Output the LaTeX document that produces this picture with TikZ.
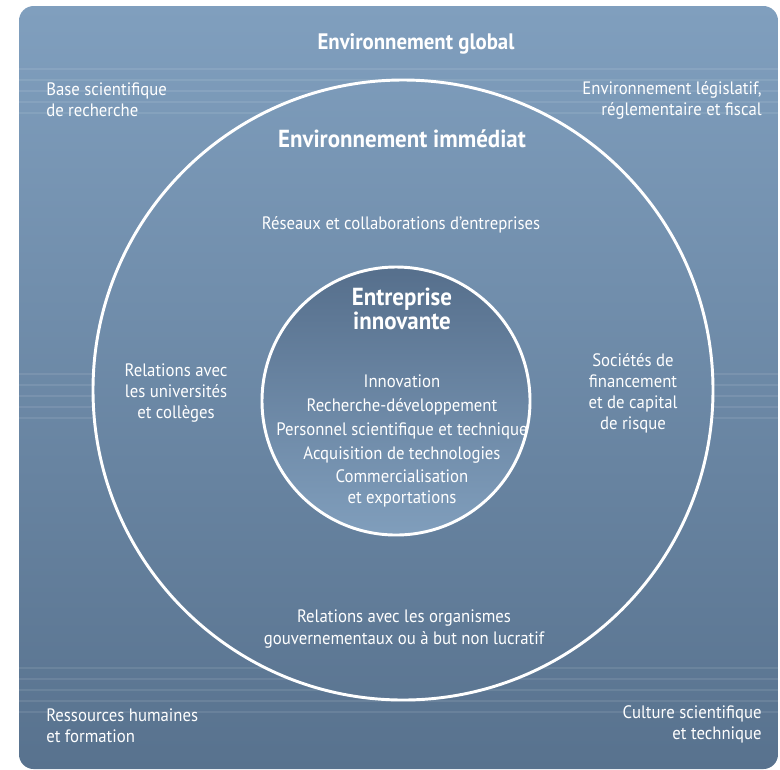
\documentclass[tikz,border=0pt]{standalone}
\usepackage{fontspec}
\setmainfont{PT Sans}[FakeStretch=0.93]
\definecolor{bgtop}{RGB}{128,159,190}
\definecolor{bgbottom}{RGB}{88,114,142}
\definecolor{coretop}{RGB}{86,111,140}
\definecolor{corebottom}{RGB}{128,158,188}
\tikzset{
  ringtext/.style={text=white, align=center, font=\fontsize{13.5}{15.8}\selectfont, inner sep=0pt},
  titletext/.style={text=white, align=center, font=\bfseries\fontsize{16.8}{18}\selectfont, inner sep=0pt},
  ring/.style={draw=white, line width=2.2pt}
}
\begin{document}
\begin{tikzpicture}[x=0.75pt, y=-0.75pt]
  \useasboundingbox (0,0) rectangle (780,769);

  % Background panel
  \shade[top color=bgtop, bottom color=bgbottom, rounded corners=11pt] (19,6) rectangle (778,769);

  % Faint stripes outside the outer ring
  \begin{scope}[even odd rule]
    \clip (19,6) rectangle (778,769) (403,390) circle[radius=310];
    \foreach \band in {69,374,668}
      \foreach \k in {0,...,4}
        \draw[white, opacity=0.09, line width=0.8pt] (19,\band+11*\k) -- (778,\band+11*\k);
  \end{scope}

  % Outer ring
  \node[ring, circle, minimum size=465pt, inner sep=0pt] (outer) at (403,390) {};

  % Core
  \shade[top color=coretop, bottom color=corebottom] (396,401) circle[radius=134];
  \node[ring, circle, minimum size=201pt, inner sep=0pt] (core) at (396,401) {};

  % Global environment
  \node[titletext] (global) at (416,44) {Environnement global};
  \node[ringtext, align=left, anchor=west] (science) at (46,100) {Base scientifique\\de recherche};
  \node[ringtext, align=right, anchor=east] (legal) at (762,100) {Environnement législatif,\\réglementaire et fiscal};
  \node[ringtext, align=left, anchor=west] (people) at (46,726) {Ressources humaines\\et formation};
  \node[ringtext, align=right, anchor=east] (culture) at (762,724) {Culture scientifique\\et technique};

  % Immediate environment
  \node[titletext, font=\bfseries\fontsize{18.5}{20}\selectfont] (immediate) at (402,139) {Environnement immédiat};
  \node[ringtext] (networks) at (401,225) {Réseaux et collaborations d'entreprises};
  \node[ringtext] (univ) at (176,393) {Relations avec\\les universités\\et collèges};
  \node[ringtext] (finance) at (633,393) {Sociétés de\\financement\\et de capital\\de risque};
  \node[ringtext] (gov) at (404,629) {Relations avec les organismes\\gouvernementaux ou à but non lucratif};

  % Innovative firm
  \node[titletext, font=\bfseries\fontsize{18.5}{18}\selectfont] (firm) at (402,309) {Entreprise\\innovante};
  \node[ringtext, font=\fontsize{13.5}{17.8}\selectfont] (activities) at (402,419)
    {Innovation\\Recherche-développement\\Personnel scientifique et technique\\Acquisition de technologies};
  \node[ringtext] (trade) at (402,488) {Commercialisation\\et exportations};
\end{tikzpicture}
\end{document}
